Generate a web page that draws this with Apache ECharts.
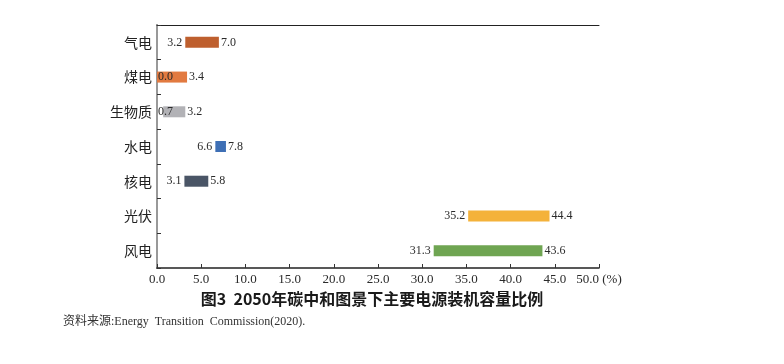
<!DOCTYPE html>
<html><head><meta charset="utf-8">
<script src="https://cdn.jsdelivr.net/npm/echarts@6/dist/echarts.min.js"></script>
<style>html,body{margin:0;padding:0;background:#fff}#c{width:784px;height:364px}</style>
</head><body><div id="c"></div>
<script>
const categories = ['气电','煤电','生物质','水电','核电','光伏','风电'];
const startValues = [3.2, 0.0, 0.7, 6.6, 3.1, 35.2, 31.3];
const endValues = [7.0, 3.4, 3.2, 7.8, 5.8, 44.4, 43.6];
const barColors = ['#BE5F2E','#E27A40','#B2B2B6','#3E6FB5','#4A5566','#F4B23A','#6FA552'];
const xTicks = [0,5,10,15,20,25,30,35,40,45,50];

const chart = echarts.init(document.getElementById('c'));
const serif = '"Liberation Serif", "Noto Sans CJK SC", serif';
const lblStyle = {color:'#2a2a2a', fontFamily: serif, fontSize: 12};
const startLabelData = startValues.map((v,i)=>{
  const small = v < 2;
  return {
    value: [small ? 0 : v, i],
    label: {show:true, position: small ? 'right' : 'left', distance: small ? 1 : 3,
      formatter: v.toFixed(1), ...lblStyle}
  };
});
chart.setOption({
  animation:false,
  grid:{left:157, right:185, top:25, bottom:96, show:false},
  xAxis:[{type:'value', min:0, max:50, interval:5, position:'bottom',
    axisLine:{show:true, lineStyle:{color:'#222', width:1.5}},
    axisTick:{show:true, inside:true, length:4, lineStyle:{color:'#333'}},
    splitLine:{show:false},
    axisLabel:{color:'#2a2a2a', fontFamily:serif, fontSize:13, margin:5,
      formatter:(v)=> v===50 ? '50.0 (%)' : v.toFixed(1)}},
    {type:'value', min:0, max:50, position:'top', axisLine:{show:true, lineStyle:{color:'#222', width:1}},
     axisTick:{show:false}, axisLabel:{show:false}, splitLine:{show:false}}],
  yAxis:[{type:'category', data:categories, inverse:true,
    axisLine:{show:true, lineStyle:{color:'#222', width:1.5}},
    axisTick:{show:true, inside:true, length:4, lineStyle:{color:'#333'}},
    axisLabel:{color:'#222', fontFamily:'"Noto Sans CJK SC", serif', fontSize:14, margin:5}},
    {type:'category', data:categories, inverse:true, position:'right',
     axisLine:{show:true, lineStyle:{color:'#999', width:2}}, axisTick:{show:false}, axisLabel:{show:false}}],
  series:[
    {type:'bar', stack:'s', data:startValues, itemStyle:{color:'transparent'}, barWidth:11, silent:true},
    {type:'bar', stack:'s', barWidth:11,
      data: endValues.map((e,i)=>({value: +(e-startValues[i]).toFixed(2), itemStyle:{color:barColors[i]}})),
      label:{show:true, position:'right', distance:2, ...lblStyle,
        formatter:(p)=> endValues[p.dataIndex].toFixed(1)}},
    {type:'scatter', data:startLabelData, symbolSize:0, z:5, itemStyle:{opacity:1, color:'transparent'}}
  ],
  graphic:[
    {type:'text', x:372, y:291, style:{text:'图3  2050年碳中和图景下主要电源装机容量比例', textAlign:'center',
      fill:'#1a1a1a', font:'bold 16px "Noto Sans CJK SC", serif'}},
    {type:'text', x:63, y:316, style:{text:'资料来源:Energy  Transition  Commission(2020).',
      fill:'#333', font:'12px "Liberation Serif", "Noto Sans CJK SC", serif'}}
  ]
});
</script></body></html>
